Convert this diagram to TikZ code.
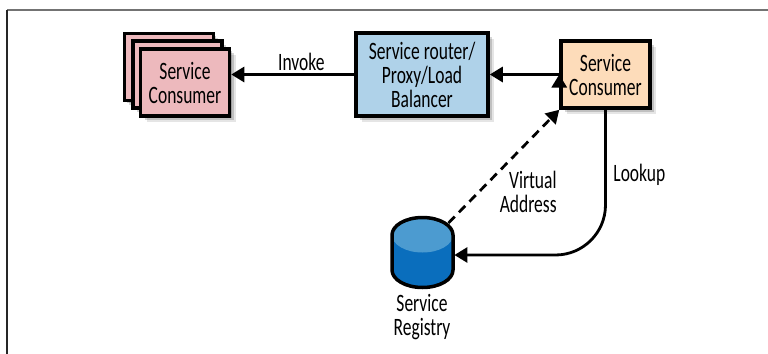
\documentclass[tikz,border=0pt]{standalone}
\usepackage{fontspec}
\setmainfont[FakeStretch=0.7]{Carlito}
\usetikzlibrary{arrows.meta,shadows,calc}
\definecolor{pinkfill}{HTML}{EDB9BD}
\definecolor{bluefill}{HTML}{AFD2E9}
\definecolor{orangefill}{HTML}{FDDCBA}
\definecolor{dbbody}{HTML}{0A6EBD}
\definecolor{dbtop}{HTML}{4C9BD0}
\tikzset{
    softshadow/.style = {drop shadow={shadow xshift=1.2pt,shadow yshift=-1.2pt,
                            fill=black,opacity=.18},
                        drop shadow={shadow xshift=2pt,shadow yshift=-2pt,
                            fill=black,opacity=.16},
                        drop shadow={shadow xshift=3pt,shadow yshift=-3pt,
                            fill=black,opacity=.1}},
    box/.style =    {rectangle,
                    draw=black,
                    text=black,
                    line width=1.75pt,
                    inner sep=0pt,
                    align=center,
                    font=\fontsize{12.5}{12}\selectfont,
                    softshadow},
    consumer/.style = {box,
                    fill=orangefill,
                    minimum width=44.5pt,
                    minimum height=33.5pt},
    instance/.style = {box,
                    fill=pinkfill,
                    minimum width=44.5pt,
                    minimum height=33.5pt},
    router/.style = {box,
                    fill=bluefill,
                    minimum width=66pt,
                    minimum height=41.5pt},
    db/.style =     {rectangle,
                    inner sep=0pt,
                    minimum width=31.5pt,
                    minimum height=36pt},
    tag/.style =    {text=black,
                    inner sep=0pt,
                    align=center,
                    font=\fontsize{12.5}{12}\selectfont},
    link/.style =   {draw=black,
                    line width=1.4pt},
    >={Triangle[length=6.5pt,width=7.5pt]}}
\begin{document}
\begin{tikzpicture}[x=.5pt,y=-.5pt]
    \useasboundingbox (0,0) rectangle (768,354);
    % frame
    \draw [line width=1pt,draw=black!55] (7,10) -- (768,10);
    \draw [line width=1pt,draw=black!85] (7,10) -- (7,354);
    % boxes
    \node[consumer]       (consumer) at (605.5,74.5)                {Service\\Consumer};
    \node[router]         (router)   [left of=consumer,node distance=91.75pt] {Service router/\\Proxy/Load\\Balancer};
    \node[instance]       (backbox)  at (169,67)                    {};
    \node[instance]       (midbox)   at (177.5,74.5)                {};
    \node[instance]       (frontbox) at (185,82.5)                  {Service\\Consumer};
    \node[db]             (registry) at (422.5,252)                 {};
    % drum
    \begin{scope}[shift={(registry.center)},x=.5pt,y=.5pt]
        \fill [dbbody] (-30.5,17) arc [start angle=180,end angle=0,x radius=15.25pt,y radius=8.75pt]
            -- (30.5,-18) arc [start angle=0,end angle=-180,x radius=15.25pt,y radius=8.75pt] -- cycle;
        \fill [dbtop] (0,17) ellipse [x radius=15.25pt,y radius=8.75pt];
        \draw [black,line width=1.75pt] (-30.5,17) arc [start angle=180,end angle=0,x radius=15.25pt,y radius=8.75pt]
            -- (30.5,-18) arc [start angle=0,end angle=-180,x radius=15.25pt,y radius=8.75pt] -- cycle;
    \end{scope}
    % labels
    \node[tag]            (regtag)   at (422,317)                   {Service\\Registry};
    \node[tag,align=right,anchor=east] (addrtag) at (557,192)       {Virtual\\Address};
    \node[tag,anchor=west] (looktag) at (613,175)                   {Lookup};
    \coordinate (lookend) at ($(registry.east)+(0,3)$);
    \coordinate (dashstart) at ($(registry.center)+(26,-29)$);
    % links
    \path [link,->] (router.west) edge node [tag,above=1pt,pos=.43] {Invoke} (router.west -| frontbox.east)
                    (consumer.west) edge (router.east);
    \draw [link,->,dash pattern=on 4.5pt off 3pt] (dashstart) -- (consumer.south west);
    \draw [link,->,rounded corners=25pt] (consumer.south) |- (lookend);
\end{tikzpicture}
\end{document}
